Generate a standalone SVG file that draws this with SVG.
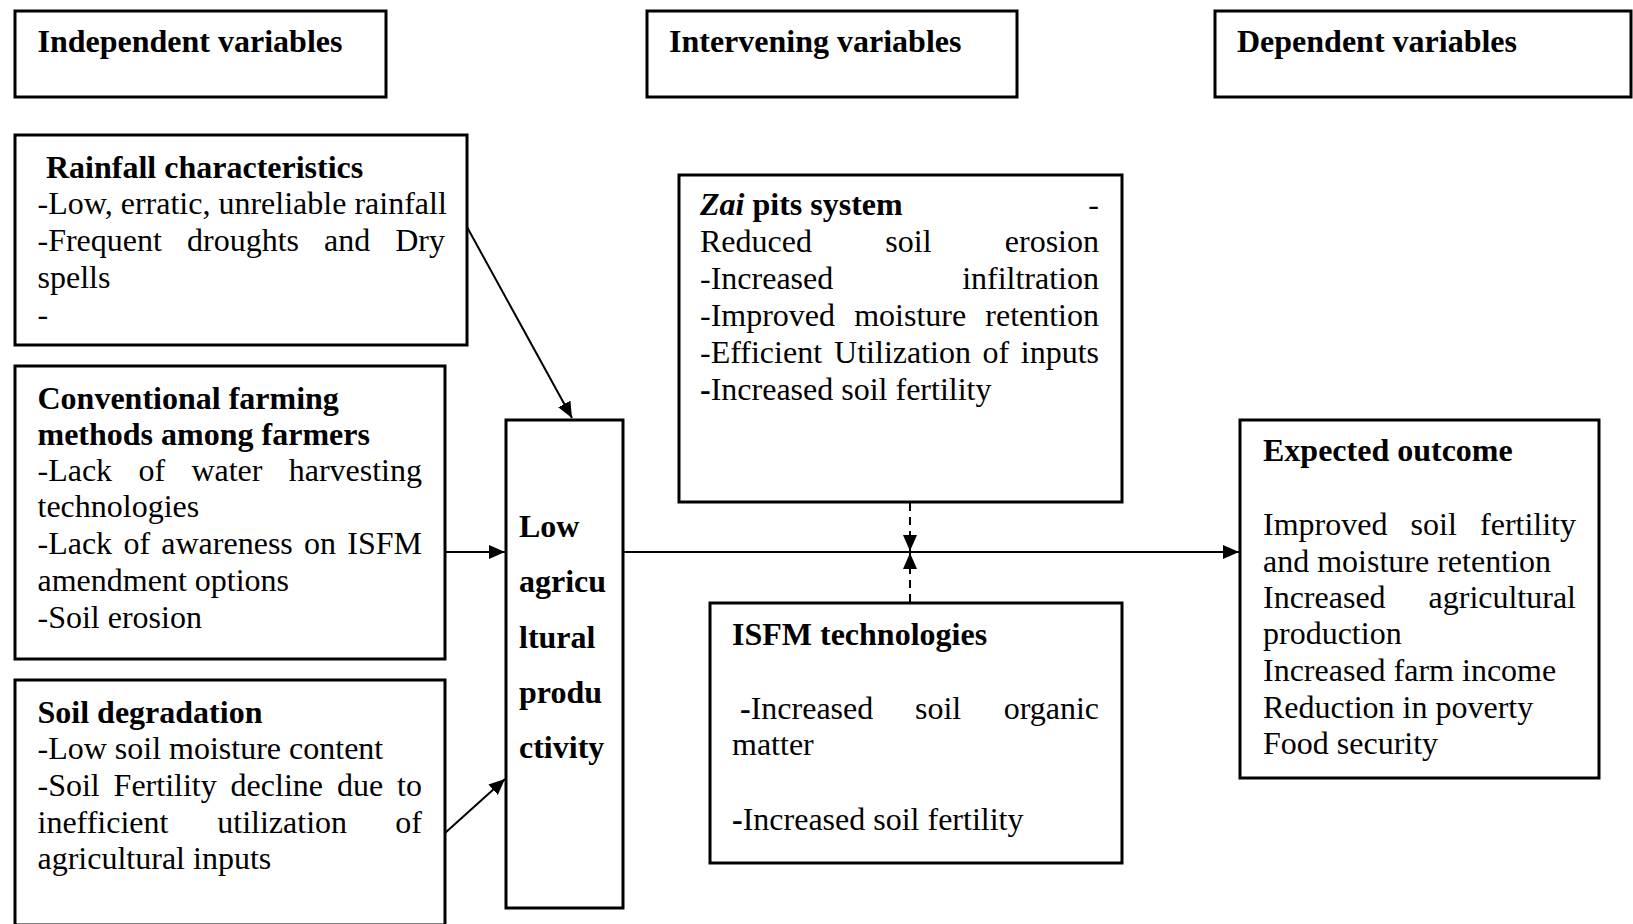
<svg xmlns="http://www.w3.org/2000/svg" width="1633" height="924" viewBox="0 0 1633 924">
<style>
.box{fill:#fff;stroke:#000;stroke-width:3}
text{font-family:"Liberation Serif","Times New Roman",serif;font-size:32px;fill:#000}
.b{font-weight:bold}
.bi{font-weight:bold;font-style:italic}
.e{text-anchor:end}
.ln{stroke:#000;stroke-width:2;fill:none}
.dash{stroke:#000;stroke-width:2;fill:none;stroke-dasharray:8 6}
</style>
<defs>
<marker id="ah" markerUnits="userSpaceOnUse" markerWidth="18" markerHeight="15" refX="16" refY="7" orient="auto"><path d="M0,0 L16,7 L0,14 z" fill="#000"/></marker>
</defs>
<rect width="1633" height="924" fill="#fff"/>

<g id="hdr-independent"><rect class="box" x="15" y="11" width="371" height="86"/><text class="b" x="37.5" y="52">Independent variables</text></g>
<g id="hdr-intervening"><rect class="box" x="647" y="11" width="370" height="86"/><text class="b" x="669" y="52">Intervening variables</text></g>
<g id="hdr-dependent"><rect class="box" x="1215" y="11" width="416" height="86"/><text class="b" x="1237" y="52">Dependent variables</text></g>

<g id="rainfall"><rect class="box" x="15" y="135" width="452" height="210"/>
<text class="b" x="46" y="178">Rainfall characteristics</text>
<text x="37.5" y="214">-Low, erratic, unreliable rainfall</text>
<text y="251"><tspan x="37.5">-Frequent</tspan><tspan x="187">droughts</tspan><tspan x="324">and</tspan><tspan class="e" x="445">Dry</tspan></text>
<text x="37.5" y="288">spells</text>
<text x="37.5" y="325">-</text>
</g>

<g id="conventional"><rect class="box" x="15" y="366" width="430" height="293"/>
<text class="b" x="37.5" y="409">Conventional farming</text>
<text class="b" x="37.5" y="445">methods among farmers</text>
<text y="481"><tspan x="37.5">-Lack</tspan><tspan x="138.4">of</tspan><tspan x="191.4">water</tspan><tspan class="e" x="422">harvesting</tspan></text>
<text x="37.5" y="517">technologies</text>
<text y="554"><tspan x="37.5">-Lack</tspan><tspan x="123.4">of</tspan><tspan x="161.3">awareness</tspan><tspan x="304">on</tspan><tspan class="e" x="422">ISFM</tspan></text>
<text x="37.5" y="591">amendment options</text>
<text x="37.5" y="628">-Soil erosion</text>
</g>

<g id="soil-degradation"><rect class="box" x="15" y="680" width="430" height="245"/>
<text class="b" x="37.5" y="723">Soil degradation</text>
<text x="37.5" y="759">-Low soil moisture content</text>
<text y="796"><tspan x="37.5">-Soil</tspan><tspan x="113.6">Fertility</tspan><tspan x="230.6">decline</tspan><tspan x="336.9">due</tspan><tspan class="e" x="422">to</tspan></text>
<text y="833"><tspan x="37.5">inefficient</tspan><tspan x="217.3">utilization</tspan><tspan class="e" x="422">of</tspan></text>
<text x="37.5" y="869">agricultural inputs</text>
</g>

<g id="low-productivity"><rect class="box" x="506" y="420" width="117" height="488"/>
<text class="b" x="519" y="537">Low</text>
<text class="b" x="519" y="592">agricu</text>
<text class="b" x="519" y="648">ltural</text>
<text class="b" x="519" y="703">produ</text>
<text class="b" x="519" y="758">ctivity</text>
</g>

<g id="zai"><rect class="box" x="679" y="175" width="443" height="327"/>
<text y="215"><tspan class="bi" x="700">Zai</tspan><tspan class="b"> pits system</tspan><tspan class="e" x="1099">-</tspan></text>
<text y="252"><tspan x="700">Reduced</tspan><tspan x="885.3">soil</tspan><tspan class="e" x="1099">erosion</tspan></text>
<text y="289"><tspan x="700">-Increased</tspan><tspan class="e" x="1099">infiltration</tspan></text>
<text y="326"><tspan x="700">-Improved</tspan><tspan x="854.2">moisture</tspan><tspan class="e" x="1099">retention</tspan></text>
<text y="363"><tspan x="700">-Efficient</tspan><tspan x="834.1">Utilization</tspan><tspan x="982.5">of</tspan><tspan class="e" x="1099">inputs</tspan></text>
<text x="700" y="400"><tspan class="b">-</tspan>Increased soil fertility</text>
</g>

<g id="isfm"><rect class="box" x="710" y="603" width="412" height="260"/>
<text class="b" x="732" y="645">ISFM technologies</text>
<text y="719"><tspan x="740" class="b">-</tspan><tspan>Increased</tspan><tspan x="915">soil</tspan><tspan class="e" x="1099">organic</tspan></text>
<text x="732" y="755">matter</text>
<text x="732" y="830"><tspan class="b">-</tspan>Increased soil fertility</text>
</g>

<g id="outcome"><rect class="box" x="1240" y="420" width="359" height="358"/>
<text class="b" x="1263" y="461">Expected outcome</text>
<text y="535"><tspan x="1263">Improved</tspan><tspan x="1410.6">soil</tspan><tspan class="e" x="1576">fertility</tspan></text>
<text x="1263" y="572">and moisture retention</text>
<text y="608"><tspan x="1263">Increased</tspan><tspan class="e" x="1576">agricultural</tspan></text>
<text x="1263" y="644">production</text>
<text x="1263" y="681">Increased farm income</text>
<text x="1263" y="718">Reduction in poverty</text>
<text x="1263" y="754">Food security</text>
</g>

<g id="connectors">
<line class="ln" x1="467" y1="227" x2="572" y2="418" marker-end="url(#ah)"/>
<line class="ln" x1="445" y1="552" x2="505" y2="552" marker-end="url(#ah)"/>
<line class="ln" x1="445" y1="833" x2="505" y2="779" marker-end="url(#ah)"/>
<line class="ln" x1="623" y1="552" x2="1239" y2="552" marker-end="url(#ah)"/>
<line class="dash" x1="910" y1="503" x2="910" y2="551" marker-end="url(#ah)"/>
<line class="dash" x1="910" y1="602" x2="910" y2="553" marker-end="url(#ah)"/>
</g>
</svg>
